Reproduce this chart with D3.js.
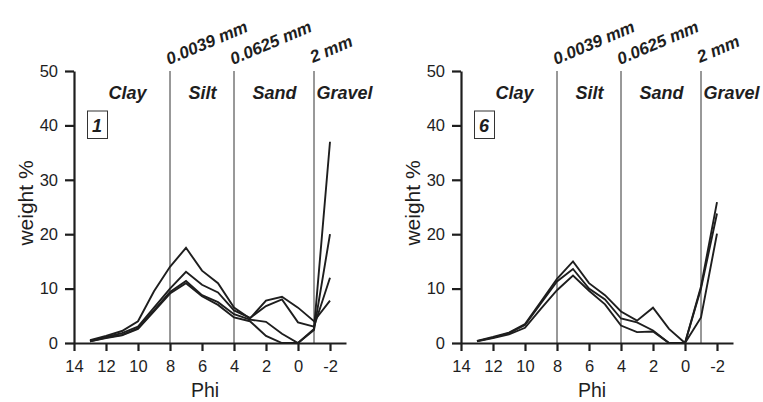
<!DOCTYPE html>
<html>
<head>
<meta charset="utf-8">
<script src="https://cdn.jsdelivr.net/npm/d3@7"></script>
<style>
  body { margin: 0; background: #fff; }
  svg { font-family: "Liberation Sans", Arial, sans-serif; }
</style>
</head>
<body>
<svg id="canvas" width="763" height="402"></svg>
<script>
// phi classes (x) shared by every curve
let phi = [13, 12, 11, 10, 9, 8, 7, 6, 5, 4, 3, 2, 1, 0, -1, -2]
let phiTicks = [14, 12, 10, 8, 6, 4, 2, 0, -2]
let weightTicks = [0, 10, 20, 30, 40, 50]

// sample 1 curves (weight %)
let sample1a = [0.5, 1.3, 2.2, 4.0, 9.5, 14.0, 17.5, 13.3, 11.0, 6.5, 4.5, 7.8, 8.5, 6.5, 4.0, 7.8]
let sample1b = [0.4, 1.1, 1.8, 3.0, 6.5, 10.0, 13.1, 10.7, 9.3, 6.0, 4.6, 6.8, 8.0, 3.8, 3.0, 12.0]
let sample1c = [0.3, 1.0, 1.5, 2.7, 6.0, 9.4, 11.4, 8.8, 7.5, 5.3, 4.3, 3.9, 1.7, 0.0, 2.6, 37.0]
let sample1d = [0.3, 0.9, 1.4, 2.6, 5.8, 9.1, 11.0, 8.6, 7.0, 4.7, 4.0, 1.3, 0.0, 0.0, 2.4, 20.0]

// sample 6 curves
let sample6a = [0.4, 1.1, 1.9, 3.5, 7.6, 11.8, 15.0, 11.0, 8.8, 5.8, 4.1, 6.5, 2.6, 0.0, 10.4, 25.9]
let sample6b = [0.35, 1.0, 1.8, 3.3, 7.3, 11.3, 13.6, 10.0, 8.0, 4.5, 3.8, 2.3, 0.0, 0.0, 10.0, 23.8]
let sample6c = [0.3, 0.9, 1.6, 2.8, 6.3, 9.7, 12.4, 9.6, 7.1, 3.2, 2.0, 2.1, 0.0, 0.0, 4.7, 20.1]

// grain size boundaries and classes
let boundaries = [8, 4, -1]
let boundaryLabels = ['0.0039 mm', '0.0625 mm', '2 mm']
let classNames = ['Clay', 'Silt', 'Sand', 'Gravel']
let classCenters = [10.65, 5.97, 1.47, -2.9]

let canvas = d3.select('#canvas')

let drawPanel = (left, series, label) => {
    let x = d3.scaleLinear().domain([14, -3]).range([left, left + 272])
    let y = d3.scaleLinear().domain([0, 50]).range([343, 71])
    let g = canvas.append('g')

    // class boundaries
    g.selectAll('line.bound')
        .data(boundaries)
        .enter()
        .append('line')
        .attr('x1', d => x(d)).attr('x2', d => x(d))
        .attr('y1', y(0)).attr('y2', y(50))
        .attr('stroke', '#333')
        .attr('stroke-width', 1)

    g.selectAll('text.bl')
        .data(boundaries)
        .enter()
        .append('text')
        .attr('transform', (d, i) => 'translate(' + (x(d) - 1) + ',' + (i == 2 ? 63 : 65) + ') rotate(-23)')
        .attr('font-size', 17)
        .attr('font-weight', 'bold')
        .attr('font-style', 'italic')
        .attr('fill', '#1e1e1e')
        .text((d, i) => boundaryLabels[i])

    g.selectAll('text.cls')
        .data(classNames)
        .enter()
        .append('text')
        .attr('x', (d, i) => x(classCenters[i]))
        .attr('y', 99)
        .attr('text-anchor', 'middle')
        .attr('font-size', 18)
        .attr('font-weight', 'bold')
        .attr('font-style', 'italic')
        .attr('fill', '#1e1e1e')
        .text(d => d)

    // sample number box
    g.append('rect')
        .attr('x', x(14) + 13.5).attr('y', 111)
        .attr('width', 20).attr('height', 27.5)
        .attr('fill', 'none')
        .attr('stroke', '#333')
        .attr('stroke-width', 1)
    g.append('text')
        .attr('x', x(14) + 23).attr('y', 131.5)
        .attr('text-anchor', 'middle')
        .attr('font-size', 18)
        .attr('font-weight', 'bold')
        .attr('font-style', 'italic')
        .attr('fill', '#1e1e1e')
        .text(label)

    // curves
    let line = d3.line()
        .x((d, i) => x(phi[i]))
        .y(d => y(d))
    g.selectAll('path.curve')
        .data(series)
        .enter()
        .append('path')
        .attr('d', line)
        .attr('fill', 'none')
        .attr('stroke', '#1e1e1e')
        .attr('stroke-width', 1.9)
        .attr('stroke-linejoin', 'miter')

    // axes
    let yAxis = g.append('g')
        .attr('transform', 'translate(' + left + ',0)')
        .call(d3.axisLeft(y).tickValues(weightTicks).tickSize(9).tickSizeOuter(0).tickPadding(7))
    let xAxis = g.append('g')
        .attr('transform', 'translate(0,' + y(0) + ')')
        .call(d3.axisBottom(x).tickValues(phiTicks).tickFormat(d => String(d))
            .tickSize(8).tickSizeOuter(0).tickPadding(9))

    ;[xAxis, yAxis].forEach(a => {
        a.select('.domain').attr('stroke', '#1e1e1e').attr('stroke-width', 2.2)
        a.selectAll('.tick line').attr('stroke', '#1e1e1e').attr('stroke-width', 2.2)
        a.selectAll('.tick text')
            .attr('font-size', 16.5)
            .attr('font-family', '"Liberation Sans", Arial, sans-serif')
            .attr('fill', '#1e1e1e')
    })

    g.append('text')
        .attr('x', (x(14) + x(-3)) / 2 - 5)
        .attr('y', 397)
        .attr('text-anchor', 'middle')
        .attr('font-size', 19.5)
        .attr('fill', '#1e1e1e')
        .text('Phi')

    g.append('text')
        .attr('transform', 'translate(' + (left - 41) + ',' + 203 + ') rotate(-90)')
        .attr('text-anchor', 'middle')
        .attr('font-size', 21)
        .attr('fill', '#1e1e1e')
        .text('weight %')
}

drawPanel(74, [sample1a, sample1b, sample1c, sample1d], '1')
drawPanel(461, [sample6a, sample6b, sample6c], '6')
</script>
</body>
</html>
